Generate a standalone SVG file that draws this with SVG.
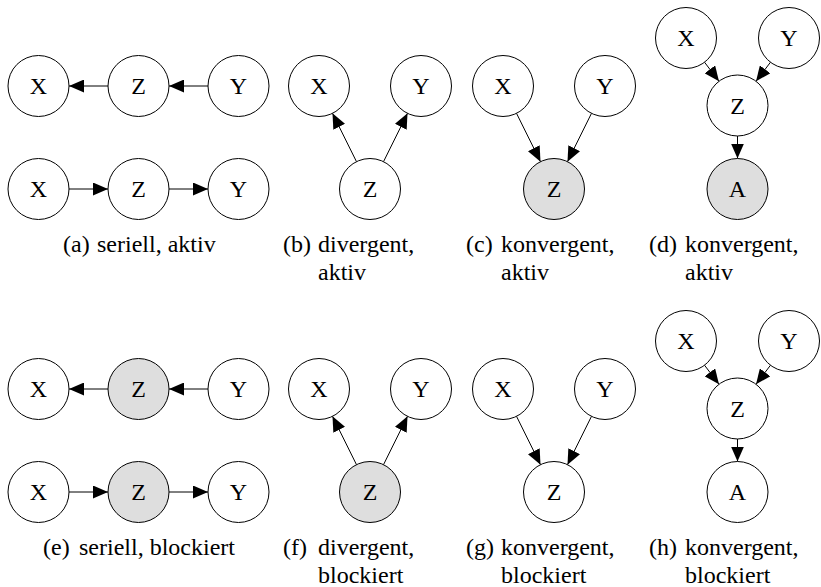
<svg xmlns="http://www.w3.org/2000/svg" width="821" height="587" viewBox="0 0 821 587">
<style>
.n{fill:#fff;stroke:#000;stroke-width:1}
.s{fill:#dedede;stroke:#000;stroke-width:1}
.t{text-anchor:middle}
.c{stroke:#000;stroke-width:1;fill:none;marker-end:url(#ah)}
</style>
<defs>
<marker id="ah" markerUnits="userSpaceOnUse" markerWidth="15" markerHeight="13" viewBox="0 0 15 13" refX="15" refY="6.5" orient="auto">
<path d="M0,0 L15,6.5 L0,13 Z" fill="#000"/>
</marker>
</defs>
<rect width="821" height="587" fill="#fff"/>
<g id="connectors">
<line class="c" x1="108" y1="86" x2="69" y2="86"/>
<line class="c" x1="208" y1="86" x2="169" y2="86"/>
<line class="c" x1="69" y1="189" x2="108" y2="189"/>
<line class="c" x1="169" y1="189" x2="208" y2="189"/>
<line class="c" x1="356.5" y1="161.7" x2="332.5" y2="113.3"/>
<line class="c" x1="383.5" y1="161.7" x2="407.5" y2="113.3"/>
<line class="c" x1="516.5" y1="113.3" x2="540.5" y2="161.7"/>
<line class="c" x1="591.5" y1="113.3" x2="567.5" y2="161.7"/>
<line class="c" x1="704.5" y1="62.2" x2="719" y2="81.3"/>
<line class="c" x1="770.5" y1="62.2" x2="756" y2="81.3"/>
<line class="c" x1="737.5" y1="136" x2="737.5" y2="158.5"/>
<line class="c" x1="108" y1="389" x2="69" y2="389"/>
<line class="c" x1="208" y1="389" x2="169" y2="389"/>
<line class="c" x1="69" y1="492" x2="108" y2="492"/>
<line class="c" x1="169" y1="492" x2="208" y2="492"/>
<line class="c" x1="356.5" y1="464.7" x2="332.5" y2="416.3"/>
<line class="c" x1="383.5" y1="464.7" x2="407.5" y2="416.3"/>
<line class="c" x1="516.5" y1="416.3" x2="540.5" y2="464.7"/>
<line class="c" x1="591.5" y1="416.3" x2="567.5" y2="464.7"/>
<line class="c" x1="704.5" y1="365.2" x2="719" y2="384.3"/>
<line class="c" x1="770.5" y1="365.2" x2="756" y2="384.3"/>
<line class="c" x1="737.5" y1="439" x2="737.5" y2="461.5"/>
</g>
<g id="nodes" font-family="Liberation Serif, Times New Roman, Tinos, Noto Serif, DejaVu Serif, FreeSerif, serif" font-size="24" fill="#000">
<g id="a-X1"><circle class="n" cx="38.5" cy="86" r="30.5"/><text class="t" x="38.5" y="94">X</text></g>
<g id="a-Z1"><circle class="n" cx="138.5" cy="86" r="30.5"/><text class="t" x="138.5" y="94">Z</text></g>
<g id="a-Y1"><circle class="n" cx="238.5" cy="86" r="30.5"/><text class="t" x="238.5" y="94">Y</text></g>
<g id="a-X2"><circle class="n" cx="38.5" cy="189" r="30.5"/><text class="t" x="38.5" y="197">X</text></g>
<g id="a-Z2"><circle class="n" cx="138.5" cy="189" r="30.5"/><text class="t" x="138.5" y="197">Z</text></g>
<g id="a-Y2"><circle class="n" cx="238.5" cy="189" r="30.5"/><text class="t" x="238.5" y="197">Y</text></g>
<g id="b-X"><circle class="n" cx="319" cy="86" r="30.5"/><text class="t" x="319" y="94">X</text></g>
<g id="b-Y"><circle class="n" cx="421" cy="86" r="30.5"/><text class="t" x="421" y="94">Y</text></g>
<g id="b-Z"><circle class="n" cx="370" cy="189" r="30.5"/><text class="t" x="370" y="197">Z</text></g>
<g id="c-X"><circle class="n" cx="503" cy="86" r="30.5"/><text class="t" x="503" y="94">X</text></g>
<g id="c-Y"><circle class="n" cx="605" cy="86" r="30.5"/><text class="t" x="605" y="94">Y</text></g>
<g id="c-Z"><circle class="s" cx="554" cy="189" r="30.5"/><text class="t" x="554" y="197">Z</text></g>
<g id="d-X"><circle class="n" cx="686" cy="38" r="30.5"/><text class="t" x="686" y="46">X</text></g>
<g id="d-Y"><circle class="n" cx="789" cy="38" r="30.5"/><text class="t" x="789" y="46">Y</text></g>
<g id="d-Z"><circle class="n" cx="737.5" cy="105.5" r="30.5"/><text class="t" x="737.5" y="113.5">Z</text></g>
<g id="d-A"><circle class="s" cx="737.5" cy="189" r="30.5"/><text class="t" x="737.5" y="197">A</text></g>
<g id="e-X1"><circle class="n" cx="38.5" cy="389" r="30.5"/><text class="t" x="38.5" y="397">X</text></g>
<g id="e-Z1"><circle class="s" cx="138.5" cy="389" r="30.5"/><text class="t" x="138.5" y="397">Z</text></g>
<g id="e-Y1"><circle class="n" cx="238.5" cy="389" r="30.5"/><text class="t" x="238.5" y="397">Y</text></g>
<g id="e-X2"><circle class="n" cx="38.5" cy="492" r="30.5"/><text class="t" x="38.5" y="500">X</text></g>
<g id="e-Z2"><circle class="s" cx="138.5" cy="492" r="30.5"/><text class="t" x="138.5" y="500">Z</text></g>
<g id="e-Y2"><circle class="n" cx="238.5" cy="492" r="30.5"/><text class="t" x="238.5" y="500">Y</text></g>
<g id="f-X"><circle class="n" cx="319" cy="389" r="30.5"/><text class="t" x="319" y="397">X</text></g>
<g id="f-Y"><circle class="n" cx="421" cy="389" r="30.5"/><text class="t" x="421" y="397">Y</text></g>
<g id="f-Z"><circle class="s" cx="370" cy="492" r="30.5"/><text class="t" x="370" y="500">Z</text></g>
<g id="g-X"><circle class="n" cx="503" cy="389" r="30.5"/><text class="t" x="503" y="397">X</text></g>
<g id="g-Y"><circle class="n" cx="605" cy="389" r="30.5"/><text class="t" x="605" y="397">Y</text></g>
<g id="g-Z"><circle class="n" cx="554" cy="492" r="30.5"/><text class="t" x="554" y="500">Z</text></g>
<g id="h-X"><circle class="n" cx="686" cy="341" r="30.5"/><text class="t" x="686" y="349">X</text></g>
<g id="h-Y"><circle class="n" cx="789" cy="341" r="30.5"/><text class="t" x="789" y="349">Y</text></g>
<g id="h-Z"><circle class="n" cx="737.5" cy="408.5" r="30.5"/><text class="t" x="737.5" y="416.5">Z</text></g>
<g id="h-A"><circle class="n" cx="737.5" cy="492" r="30.5"/><text class="t" x="737.5" y="500">A</text></g>
</g>
<g id="captions" font-family="Liberation Serif, Times New Roman, Tinos, Noto Serif, DejaVu Serif, FreeSerif, serif" font-size="24" fill="#000">
<text x="63" y="252">(a)</text><text x="97" y="252">seriell, aktiv</text>
<text x="283" y="252">(b)</text><text x="318" y="252">divergent,</text><text x="318" y="280">aktiv</text>
<text x="466" y="252">(c)</text><text x="501" y="252">konvergent,</text><text x="501" y="280">aktiv</text>
<text x="649" y="252">(d)</text><text x="685" y="252">konvergent,</text><text x="685" y="280">aktiv</text>
<text x="43" y="555">(e)</text><text x="79" y="555">seriell, blockiert</text>
<text x="283" y="555">(f)</text><text x="318" y="555">divergent,</text><text x="318" y="583">blockiert</text>
<text x="466" y="555">(g)</text><text x="501" y="555">konvergent,</text><text x="501" y="583">blockiert</text>
<text x="649" y="555">(h)</text><text x="685" y="555">konvergent,</text><text x="685" y="583">blockiert</text>
</g>
</svg>
